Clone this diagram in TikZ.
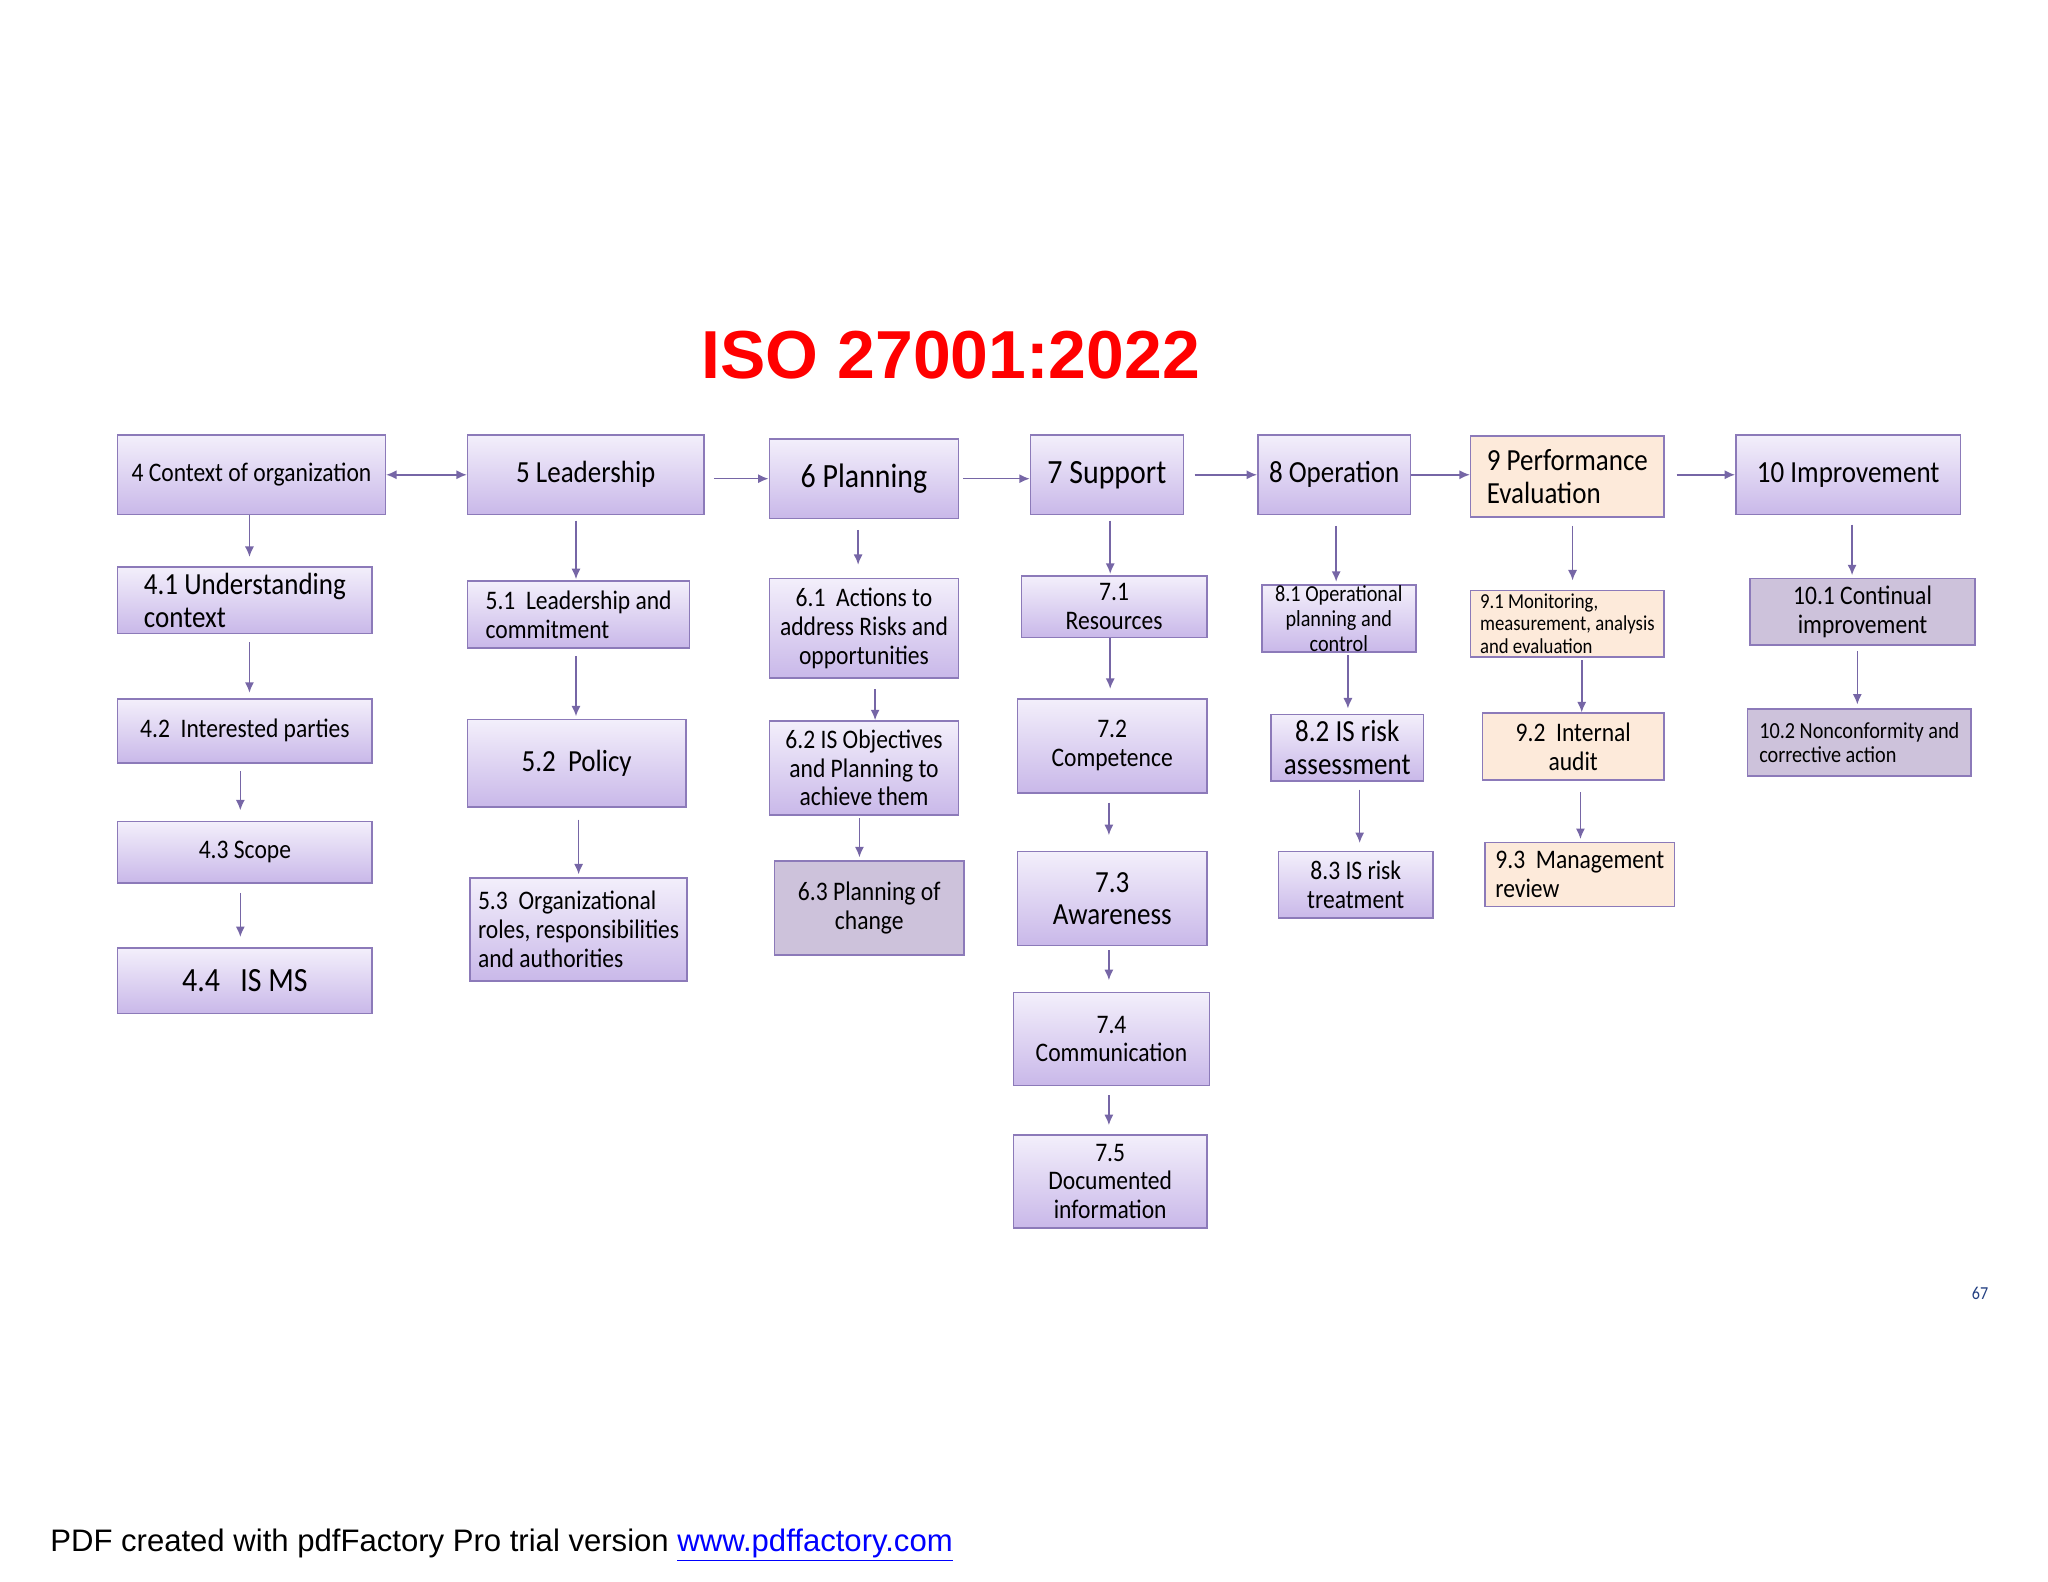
\documentclass[tikz,border=0pt]{standalone}
\usepackage{fontspec}
\setmainfont{Carlito}[FakeStretch=0.88]
\newfontfamily\arialfont{Liberation Sans}
\usetikzlibrary{arrows.meta}
\definecolor{pline}{RGB}{140,122,185}
\definecolor{ptop}{RGB}{243,239,251}
\definecolor{pbot}{RGB}{201,184,233}
\definecolor{ecol}{RGB}{253,234,218}
\definecolor{gcol}{RGB}{205,194,219}
\definecolor{acol}{RGB}{118,102,166}
\definecolor{pgcol}{RGB}{35,64,130}
\tikzset{pbox/.style={draw=pline,line width=1.2pt,top color=ptop,bottom color=pbot,inner sep=0pt,align=center,text=black,font=\fontsize{20.5}{22}\selectfont}}
\tikzset{ebox/.style={pbox,top color=ecol,bottom color=ecol}}
\tikzset{gbox/.style={pbox,top color=gcol,bottom color=gcol}}
\tikzset{txtbig/.style={font=\fontsize{23.5}{25}\selectfont}}
\tikzset{txthuge/.style={font=\fontsize{26}{28}\selectfont}}
\tikzset{txtsmall/.style={font=\fontsize{17.6}{19}\selectfont}}
\tikzset{txttiny/.style={font=\fontsize{16.3}{17}\selectfont}}
\tikzset{arr/.style={acol,line width=1.2pt,-{Latex[length=8pt,width=7pt]}}}
\begin{document}
\begin{tikzpicture}[x=1pt,y=-1pt]
\useasboundingbox (0,0) rectangle (1568,1211.2);

\node [anchor=base,text=red,font=\arialfont\bfseries\fontsize{52}{56}\selectfont] (title) at (728,290) {ISO 27001:2022};

\node [pbox,minimum width=205pt,minimum height=61pt] (c4) at (192.5,363.5) {4 Context of organization};
\node [pbox,txtbig,align=left,minimum width=195pt,minimum height=51pt] (c41) at (187.5,459.5) {4.1 Understanding\\context};
\node [pbox,minimum width=195pt,minimum height=49pt] (c42) at (187.5,559.5) {4.2\ \ Interested parties};
\node [pbox,minimum width=195pt,minimum height=47pt] (c43) at (187.5,652.5) {4.3 Scope};
\node [pbox,txthuge,minimum width=195pt,minimum height=50pt] (c44) at (187.5,751) {4.4\ \ \ IS MS};

\node [pbox,txtbig,minimum width=181pt,minimum height=61pt] (c5) at (448.5,363.5) {5 Leadership};
\node [pbox,align=left,minimum width=170pt,minimum height=51pt] (c51) at (443,470.5) {5.1\ \ Leadership and\\commitment};
\node [pbox,txtbig,minimum width=167pt,minimum height=67pt] (c52) at (441.5,584.5) {5.2\ \ Policy};
\node [pbox,align=left,minimum width=166pt,minimum height=79pt] (c53) at (443,711.5) {5.3\ \ Organizational\\roles, responsibilities\\and authorities};

\node [pbox,txthuge,minimum width=145pt,minimum height=61pt] (c6) at (661.5,366.5) {6 Planning};
\node [pbox,minimum width=145pt,minimum height=76pt] (c61) at (661.5,481) {6.1\ \ Actions to\\address Risks and\\opportunities};
\node [pbox,minimum width=145pt,minimum height=72pt] (c62) at (661.5,588) {6.2 IS Objectives\\and Planning to\\achieve them};
\node [gbox,minimum width=145pt,minimum height=72pt] (c63) at (665.5,695) {6.3 Planning of\\change};

\node [pbox,txthuge,minimum width=117pt,minimum height=61pt] (c7) at (847.5,363.5) {7 Support};
\node [pbox,minimum width=142pt,minimum height=47pt] (c71) at (853,464.5) {7.1\\Resources};
\node [pbox,minimum width=145pt,minimum height=72pt] (c72) at (851.5,571) {7.2\\Competence};
\node [pbox,txtbig,minimum width=145pt,minimum height=72pt] (c73) at (851.5,688) {7.3\\Awareness};
\node [pbox,minimum width=150pt,minimum height=71pt] (c74) at (851,795.5) {7.4\\Communication};
\node [pbox,minimum width=148pt,minimum height=71pt] (c75) at (850,904.5) {7.5\\Documented\\information};

\node [pbox,txtbig,minimum width=117pt,minimum height=61pt] (c8) at (1021.5,363.5) {8 Operation};
\node [pbox,txtsmall,minimum width=118pt,minimum height=51pt] (c81) at (1025,473.5) {8.1 Operational\\planning and\\control};
\node [pbox,txtbig,minimum width=117pt,minimum height=51pt] (c82) at (1031.5,572.5) {8.2 IS risk\\assessment};
\node [pbox,minimum width=118pt,minimum height=51pt] (c83) at (1038,677.5) {8.3 IS risk\\treatment};

\node [ebox,txtbig,align=left,minimum width=148pt,minimum height=62pt] (c9) at (1200,365) {9 Performance\\Evaluation};
\node [ebox,txttiny,align=left,minimum width=148pt,minimum height=51pt] (c91) at (1200,477.5) {9.1 Monitoring,\\measurement, analysis\\and evaluation};
\node [ebox,minimum width=139pt,minimum height=51pt] (c92) at (1204.5,571.5) {9.2\ \ Internal\\audit};
\node [ebox,align=left,minimum width=145pt,minimum height=49pt] (c93) at (1209.5,669.5) {9.3\ \ Management\\review};

\node [pbox,txtbig,minimum width=172pt,minimum height=61pt] (c10) at (1415,363.5) {10 Improvement};
\node [gbox,minimum width=172pt,minimum height=51pt] (c101) at (1426,468.5) {10.1 Continual\\improvement};
\node [gbox,txtsmall,align=left,minimum width=171pt,minimum height=51pt] (c102) at (1423.5,568.5) {10.2 Nonconformity and\\corrective action};

\draw [arr,{Latex[length=8pt,width=7pt]}-{Latex[length=8pt,width=7pt]}] (c4.east) -- (c5.west);
\draw [arr,shorten <=7pt] (c5.east |- c6.west) -- (c6.west);
\draw [arr,shorten <=3pt] (c6.east) -- (c6.east -| c7.west);
\draw [arr,shorten <=8pt] (c7.east) -- (c8.west);
\draw [arr] (c8.east) -- (c8.east -| c9.west);
\draw [arr,shorten <=9pt] (c9.east |- c10.west) -- (c10.west);

\draw [arr,shorten >=7pt] ([xshift=-1.5pt]c4.south) -- ([xshift=-1.5pt]c4.south |- c41.north);
\draw [arr,shorten <=6pt,shorten >=4pt] ([xshift=3.5pt]c41.south) -- ([xshift=3.5pt]c41.south |- c42.north);
\draw [arr,shorten <=6pt,shorten >=8pt] ([xshift=-3.5pt]c42.south) -- ([xshift=-3.5pt]c42.south |- c43.north);
\draw [arr,shorten <=7pt,shorten >=8pt] ([xshift=-3.5pt]c43.south) -- ([xshift=-3.5pt]c43.south |- c44.north);

\draw [arr,shorten <=4pt,shorten >=1pt] ([xshift=-7.5pt]c5.south) -- ([xshift=-7.5pt]c5.south |- c51.north);
\draw [arr,shorten <=6pt,shorten >=2pt] ([xshift=-2pt]c51.south) -- ([xshift=-2pt]c51.south |- c52.north);
\draw [arr,shorten <=9pt,shorten >=2pt] ([xshift=1.5pt]c52.south) -- ([xshift=1.5pt]c52.south |- c53.north);

\draw [arr,shorten <=8pt,shorten >=10pt] ([xshift=-4.5pt]c6.south) -- ([xshift=-4.5pt]c6.south |- c61.north);
\draw [arr,shorten <=8pt] ([xshift=8.5pt]c61.south) -- ([xshift=8.5pt]c61.south |- c62.north);
\draw [arr,shorten <=2pt,shorten >=2pt] ([xshift=-3.5pt]c62.south) -- ([xshift=-3.5pt]c62.south |- c63.north);

\draw [arr,shorten <=4pt,shorten >=1pt] ([xshift=2.5pt]c7.south) -- ([xshift=2.5pt]c7.south |- c71.north);
\draw [arr,shorten >=7pt] ([xshift=-3pt]c71.south) -- ([xshift=-3pt]c71.south |- c72.north);
\draw [arr,shorten <=7pt,shorten >=12pt] ([xshift=-2.5pt]c72.south) -- ([xshift=-2.5pt]c72.south |- c73.north);
\draw [arr,shorten <=3pt,shorten >=9pt] ([xshift=-2.5pt]c73.south) -- ([xshift=-2.5pt]c73.south |- c74.north);
\draw [arr,shorten <=7pt,shorten >=7pt] ([xshift=-2pt]c74.south) -- ([xshift=-2pt]c74.south |- c75.north);

\draw [arr,shorten <=8pt,shorten >=2pt] ([xshift=1.5pt]c8.south) -- ([xshift=1.5pt]c8.south |- c81.north);
\draw [arr,shorten <=2pt,shorten >=4pt] ([xshift=7pt]c81.south) -- ([xshift=7pt]c81.south |- c82.north);
\draw [arr,shorten <=6pt,shorten >=6pt] ([xshift=9.5pt]c82.south) -- ([xshift=9.5pt]c82.south |- c83.north);

\draw [arr,shorten <=6pt,shorten >=7pt] ([xshift=4pt]c9.south) -- ([xshift=4pt]c9.south |- c91.north);
\draw [arr,shorten <=2pt] ([xshift=11pt]c91.south) -- ([xshift=11pt]c91.south |- c92.north);
\draw [arr,shorten <=9pt,shorten >=2pt] ([xshift=5.5pt]c92.south) -- ([xshift=5.5pt]c92.south |- c93.north);

\draw [arr,shorten <=7pt,shorten >=2pt] ([xshift=3pt]c10.south) -- ([xshift=3pt]c10.south |- c101.north);
\draw [arr,shorten <=4pt,shorten >=3pt] ([xshift=-4pt]c101.south) -- ([xshift=-4pt]c101.south |- c102.north);

\node [text=pgcol,font=\fontsize{14}{16}\selectfont] (page) at (1516,990) {67};
\node [anchor=base west,font=\arialfont\fontsize{23.8}{26}\selectfont] (pdf) at (35,1188) {PDF created with pdfFactory Pro trial version \textcolor{blue}{\underline{www.pdffactory.com}}};
\end{tikzpicture}
\end{document}
